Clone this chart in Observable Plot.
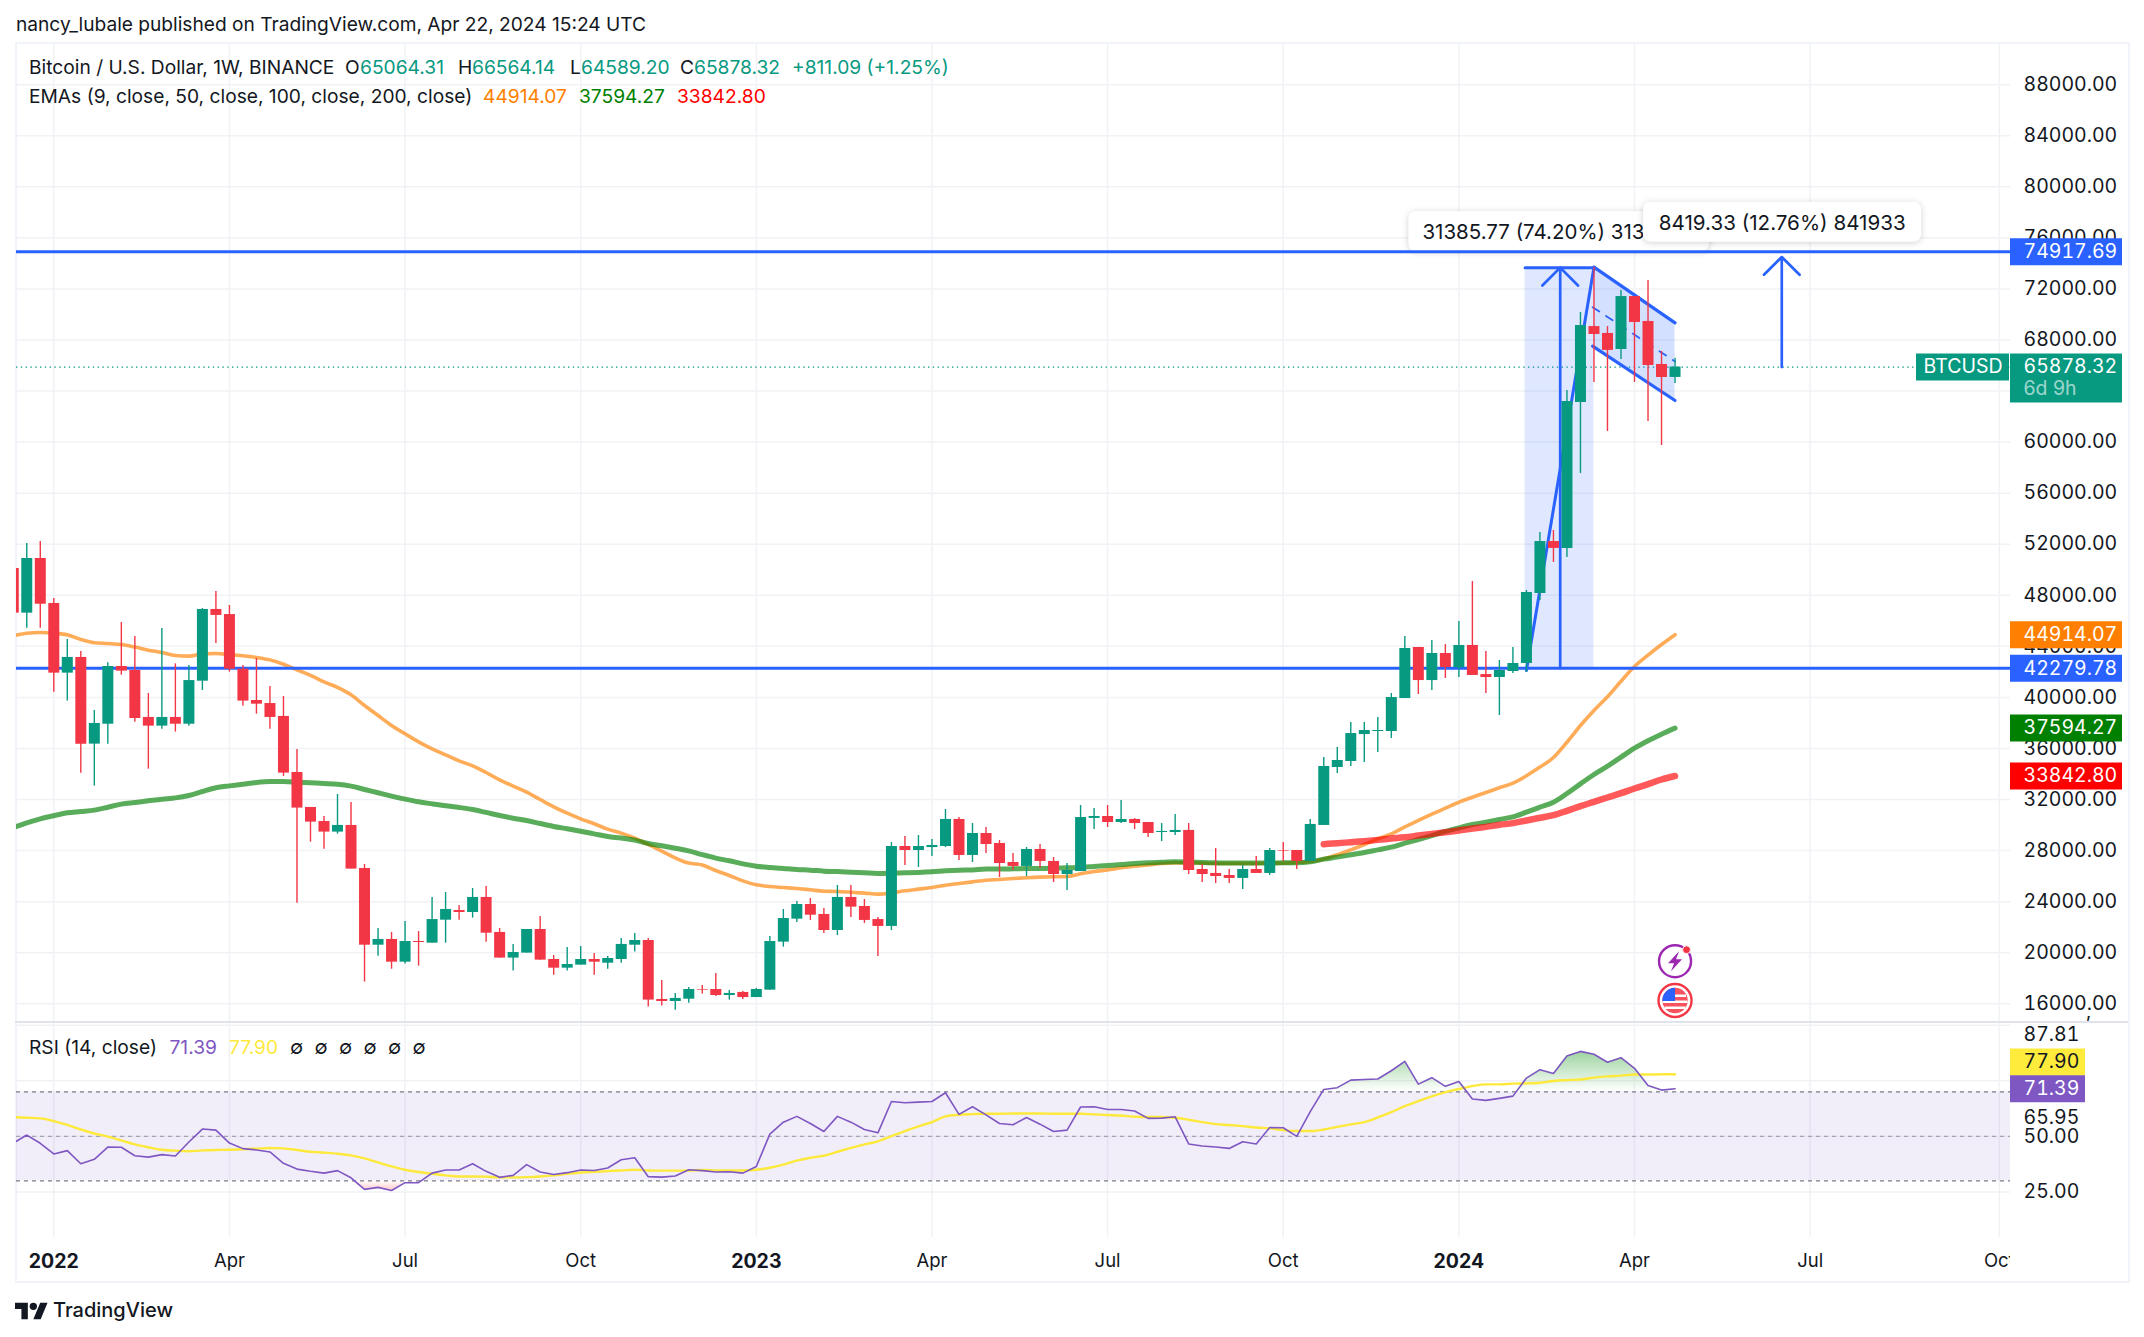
<!DOCTYPE html>
<html>
<head>
<meta charset="utf-8">
<script src="https://cdn.jsdelivr.net/npm/d3@7"></script>
<script src="https://cdn.jsdelivr.net/npm/@observablehq/plot@0.6"></script>
<style>
html,body{margin:0;padding:0;background:#fff;overflow:hidden}
#page{position:relative;width:2144px;height:1337px;font-family:Inter,sans-serif;color:#131722;overflow:hidden}
#page svg{position:absolute;left:0;overflow:visible}
.t{position:absolute;font-size:19.2px;line-height:1;white-space:pre;transform:translateY(-50%)}
.frame{position:absolute;left:15px;top:42px;width:2111px;height:1237px;border:2px solid #f0f3fa}
.div{position:absolute;left:15px;width:2113px;top:1021px;height:2px;background:#e0e3eb}
.mask{position:absolute;left:2010px;top:1240px;width:115px;height:38px;background:#fff}
</style>
</head>
<body>
<div id="page">
<div class="t" style="left:16px;top:25px;font-size:19.15px">nancy_lubale published on TradingView.com, Apr 22, 2024 15:24 UTC</div>
<div class="frame"></div>
</div>
<script>
// Weekly candles, first entry is the week of 2021-12-13
const firstIndex = -3;
const opens = [
50100,46600,50880,47360,41900,43130,36340,37900,42420,42110,
38430,37750,38430,37900,41270,46890,46490,42210,39760,39520,
38510,34120,31380,30280,29450,29970,26600,20590,21040,19260,
20880,20750,22550,23310,23150,24330,21590,19580,19970,21820,
19470,18790,19030,19470,19180,19470,20590,20960,16340,16180,
16360,17120,17120,16650,16890,16490,17070,20830,22630,23780,
23000,21740,24330,23620,22600,22060,28320,28010,28240,28320,
30440,27620,29340,28560,27070,26760,28090,27150,26130,26360,
30520,30670,30200,30440,30200,29420,29420,29580,26520,26210,
26050,25820,26520,26210,28010,28010,27150,29970,34510,34980,
37090,37330,37330,39910,43910,41320,43440,42320,44070,41790,
41560,42030,42660,48140,52210,51670,63100,69050,68510,67250,
71400,69450,66080,65064.31];
const highs = [
50100,52060,52210,47750,44540,43600,38980,42710,45870,44770,
40310,45400,42630,42500,46960,48300,47200,42500,43050,40860,
40070,35920,31380,30670,32400,31770,26910,21900,21590,22450,
21660,24330,24720,23700,25030,25190,21900,20650,21820,22840,
19780,20410,20490,19940,19710,21120,21510,21120,17830,16810,
17280,17430,18370,17040,16960,17200,21270,23390,24010,24250,
23470,25270,25270,24170,22760,28640,29100,29180,28870,31220,
30590,30120,29810,28790,27770,28240,28480,27460,26990,31530,
31300,31530,31930,30510,30200,30120,30830,30120,26910,28170,
26520,26830,27540,28170,28640,28010,30440,35290,36080,38030,
38030,38430,40310,44770,43910,44460,44140,45950,49080,43600,
42890,43910,48380,52920,53080,64040,70150,73700,69050,71870,
71400,72660,67100,66564.14];
const lows = [
46600,45420,45420,40410,39710,34060,33050,36340,41740,38060,
34380,37510,37280,37750,40540,44220,41980,39310,38690,37510,
33810,23880,28660,28110,29290,26550,17700,19730,18710,19110,
18950,20750,20750,22550,22710,20830,19580,18560,19970,19420,
18240,18560,19030,18240,18710,19180,20050,15740,15820,15500,
16050,16760,16570,16290,16340,16490,17070,20440,22370,22530,
21510,21350,22760,22290,19710,21740,26830,26680,27540,28240,
27220,27070,27770,25890,26440,25970,26600,25500,24880,26360,
29650,29810,30120,29650,29030,28710,29180,26130,25500,25420,
25420,24950,26210,26050,27150,26520,27150,29970,34040,34590,
34900,35680,36780,39910,40230,40540,41480,41560,41720,40310,
38580,41870,41950,47590,50570,50960,57540,64670,60830,66470,
64670,61610,59730,64589.20];
const closes = [
46600,50880,47300,41900,43130,36340,37960,42420,42060,38350,
37750,38430,37900,41320,46890,46420,42210,39710,39470,38430,
34070,31330,30230,29450,29970,26550,20590,21040,19260,20880,
20800,22600,23390,23150,24330,21530,19580,20020,21820,19420,
18790,19080,19470,19260,19550,20650,20960,16290,16180,16420,
17120,17070,16650,16810,16490,17120,20880,22680,23780,22940,
21740,24330,23570,22530,22060,28320,28010,28320,28400,30440,
27620,29340,28480,26990,26760,28090,27150,26130,26440,30590,
30670,30200,30440,30120,29340,29500,29580,26440,26130,25970,
25820,26520,26210,28010,27960,27150,30050,34590,35060,37170,
37410,37410,39990,43830,41320,43440,42340,44070,41720,41560,
42110,42660,48220,52210,51670,63180,69130,68430,67180,71400,
69370,66000,65060,65878.32];
const ema50 = [
44820,45030,45080,45030,44900,44540,44280,44220,44140,43940,
43700,43520,43280,43230,43410,43440,43360,43260,43130,42940,
42600,42160,41720,41220,40780,40200,39370,38580,37800,37150,
36520,35970,35500,35030,34640,34120,33540,33050,32580,32000,
31430,30930,30490,30100,29680,29370,28980,28480,27960,27430,
27020,26880,26440,26050,25630,25320,25190,25110,25030,24930,
24820,24800,24740,24670,24590,24690,24850,24980,25110,25290,
25420,25550,25680,25740,25810,25870,25920,25950,25970,26180,
26360,26490,26650,26780,26880,26990,27040,27040,27020,26990,
26990,26990,26990,27020,27020,27070,27150,27350,27670,28060,
28480,28920,29310,29860,30360,30850,31320,31790,32180,32550,
32920,33280,33860,34540,35290,36490,37800,38980,40050,41270,
42420,43310,44140,44914.07];
const ema100 = [
29790,30180,30490,30730,30960,31060,31170,31400,31640,31770,
31900,32030,32130,32320,32630,32920,33070,33200,33340,33410,
33410,33360,33310,33260,33200,33050,32790,32530,32270,32030,
31820,31660,31510,31380,31220,30990,30750,30540,30360,30120,
29890,29710,29520,29310,29100,28980,28820,28560,28380,28190,
27980,27680,27410,27200,26960,26780,26680,26600,26520,26470,
26390,26360,26310,26260,26210,26230,26260,26290,26340,26420,
26470,26490,26550,26550,26570,26600,26600,26620,26650,26680,
26760,26830,26910,26990,27040,27090,27120,27090,27070,27040,
27020,27020,27020,27020,27040,27040,27120,27330,27490,27670,
27850,28060,28270,28580,28870,29180,29500,29780,30040,30230,
30440,30640,31010,31400,31790,32470,33230,33960,34610,35320,
36020,36600,37120,37594.27];
// EMA 200 only begins at the week of 2023-10-23
const ema200First = 94;
const ema200 = [
28505,28580,28660,28740,28840,28950,29050,29180,29310,29440,
29575,29730,29860,30020,30150,30360,30570,30775,31115,31480,
31820,32160,32500,32865,33205,33570,33842.80];
const rsiValues = [
47.0,50.6,46.9,42.1,43.6,37.7,39.7,45.2,45.1,41.3,
40.7,41.8,41.2,47.5,53.3,52.8,47.0,44.5,43.9,43.0,
37.9,35.3,34.3,33.5,34.6,31.4,26.2,27.1,25.7,29.2,
29.2,33.5,34.9,34.9,37.7,34.3,31.6,32.5,37.3,34.0,
32.9,33.7,34.9,34.7,35.8,39.5,40.4,31.9,31.7,32.2,
35.0,34.6,34.0,34.1,33.5,36.5,51.0,56.4,59.0,55.8,
52.2,59.0,56.4,53.1,51.6,65.7,65.1,65.4,65.7,69.6,
59.9,63.3,59.7,55.8,55.2,58.5,55.5,52.2,52.8,63.2,
63.3,62.1,62.1,61.4,58.1,58.2,58.8,46.6,45.7,45.2,
44.6,47.6,46.6,54.0,53.9,50.0,61.1,71.1,71.9,75.3,
75.6,75.8,79.5,83.7,73.5,76.4,72.5,74.7,66.8,66.2,
67.1,68.1,76.2,80.0,78.3,86.1,88.2,86.9,83.3,85.4,
80.6,72.9,70.8,71.39];
const rsiMa = [
58.7,58.4,58.1,56.9,55.2,53.1,51.3,49.9,48.2,46.4,
45.1,44.0,43.6,43.3,43.7,43.9,44.0,44.2,44.5,44.8,
44.6,43.9,43.1,42.7,42.2,41.5,40.1,38.3,36.5,35.0,
34.0,33.2,32.5,32.0,32.0,31.9,31.6,31.6,31.7,32.0,
32.5,33.2,33.8,34.1,34.4,34.7,35.0,34.7,34.6,34.6,
34.7,34.9,34.7,34.7,34.7,35.0,35.9,37.3,39.1,40.4,
41.3,43.1,44.8,46.4,47.8,50.1,52.4,54.5,56.4,59.0,
59.7,60.0,60.2,60.2,60.3,60.3,60.3,60.2,60.2,60.2,
59.9,59.6,59.4,58.8,58.7,58.7,58.4,57.5,56.4,55.5,
55.1,54.6,54.0,53.6,52.8,52.4,52.4,53.1,54.3,55.4,
56.4,58.5,60.9,63.6,65.9,68.0,69.9,71.3,72.6,73.4,
73.4,73.7,73.8,74.1,74.9,75.3,75.6,76.4,77.0,77.3,
77.8,77.8,77.9,77.90];

const priceTicks = d3.range(16000, 88001, 4000);
const rsiGrid = [25, 50, 75, 100];
const timeTicks = ["2022-01-03","2022-04-04","2022-07-04","2022-10-03","2023-01-02","2023-04-03","2023-07-03","2023-10-02","2024-01-01","2024-04-01","2024-07-01","2024-10-07"];
const timeLabels = ["2022","Apr","Jul","Oct","2023","Apr","Jul","Oct","2024","Apr","Jul","Oct"];
const priceTags = [
  {v:74917.69,color:"#2962FF",text:"74917.69"},
  {v:44914.07,color:"#FF7F00",text:"44914.07"},
  {v:42279.78,color:"#2962FF",text:"42279.78"},
  {v:37594.27,color:"#008000",text:"37594.27"},
  {v:33842.80,color:"#FF0000",text:"33842.80"}
];
const rsiLabels = [
  {level:95.8,text:"87.81"},{level:58.6,text:"65.95"},{level:50,text:"50.00"},{level:25,text:"25.00"}
];
const rsiTags = [
  {level:83.4,color:"#FFEB3B",ink:"#131722",text:"77.90"},
  {level:71.39,color:"#7E57C2",ink:"#ffffff",text:"71.39"}
];
const supportLevel = 42279.78, resistanceLevel = 74917.69, lastClose = 65878.32;
const measureTop = 73665.55, targetTop = 74500;

const font = "Inter, sans-serif";
const gridColor = "#f1f2f5";
const up = "#089981", down = "#F23645", blue = "#2962FF";
const tab = "tabular-nums";

const weekOf = i => new Date(Date.UTC(2022,0,3) + i*7*864e5);
const xDomain = [weekOf(-2.76), weekOf(144.83)];
const xMax = xDomain[1];
const rows = opens.map((o,k)=>({
  i:k+firstIndex, date:weekOf(k+firstIndex), open:o, high:highs[k], low:lows[k], close:closes[k],
  e50:ema50[k], e100:ema100[k], rsi:rsiValues[k], ma:rsiMa[k]
}));
const rows200 = ema200.map((v,k)=>({date:weekOf(ema200First+k),v}));
const color = d => d.close >= d.open ? up : down;
const ticks = timeTicks.map((s,k)=>({date:new Date(s+"T00:00:00Z"),label:timeLabels[k],year:/^\d{4}$/.test(timeLabels[k])}));

// icon glyphs
const bolt = {draw(c){c.moveTo(4,-10);c.lineTo(-7,2);c.lineTo(-1,2);c.lineTo(-4,10);c.lineTo(7,-2);c.lineTo(1,-2);c.closePath();}};
const stripes = {draw(c){for(const [y,w] of [[-6,11],[0,12.5],[6,10.5]]){c.moveTo(-w,y);c.lineTo(w,y);c.lineTo(w,y+2.6);c.lineTo(-w,y+2.6);c.closePath();}}};
const canton = {draw(c){c.moveTo(0,-12.7);c.lineTo(0,0.5);c.lineTo(-12.7,0.5);c.arc(0,0,12.7,Math.PI,Math.PI*1.5);c.closePath();}};

const priceW = Plot.plot({
  width:2144, height:1022, marginTop:43, marginBottom:0, marginLeft:16, marginRight:134,
  style:{background:"transparent",fontFamily:font,fontSize:"19.5px",color:"#131722",overflow:"visible"},
  x:{type:"utc",domain:xDomain,axis:null},
  y:{domain:[14535,91222],axis:null},
  marks:[
    Plot.ruleY(priceTicks,{stroke:gridColor,strokeWidth:1.5}),
    Plot.ruleX(ticks,{x:"date",stroke:gridColor,strokeWidth:1.5}),
    Plot.axisY(priceTicks,{anchor:"right",label:null,tickSize:0,tickPadding:13,tickFormat:d3.format(".2f"),fill:"#131722"}),
    Plot.ruleY([lastClose],{stroke:up,strokeWidth:1.2,strokeDasharray:"1.4,3.4"}),
    // date-range shading and measurement
    Plot.rect([{x1:108.9,x2:114,y1:supportLevel,y2:measureTop}],{x1:d=>weekOf(d.x1),x2:d=>weekOf(d.x2),y1:"y1",y2:"y2",fill:blue,fillOpacity:0.15}),
    // flag channel
    Plot.areaY([{i:114,lo:67514,hi:73702},{i:120,lo:63258,hi:69342}],{x:d=>weekOf(d.i),y1:"lo",y2:"hi",fill:blue,fillOpacity:0.2}),
    // EMAs
    Plot.line(rows,{x:"date",y:"e50",stroke:"#FF7F00",strokeOpacity:0.65,strokeWidth:3.6,curve:"monotone-x",clip:true}),
    Plot.line(rows,{x:"date",y:"e100",stroke:"#008000",strokeOpacity:0.65,strokeWidth:5,curve:"monotone-x",clip:true}),
    Plot.line(rows200,{x:"date",y:"v",stroke:"#FF0000",strokeOpacity:0.65,strokeWidth:6.5,strokeLinecap:"round",curve:"monotone-x"}),
    // annotation boxes
    Plot.rect([{x1:100.3,x2:122.55,y1:74920,y2:78060}],{x1:d=>weekOf(d.x1),x2:d=>weekOf(d.x2),y1:"y1",y2:"y2",fill:"#fff",rx:7,imageFilter:"drop-shadow(0 1px 3px rgba(0,0,0,.18))"}),
    Plot.text(["31385.77 (74.20%) 313"],{x:()=>weekOf(101.3),y:()=>76440,text:d=>d,textAnchor:"start",fill:"#131722",fontSize:20.5}),
    Plot.rect([{x1:117.67,x2:138.25,y1:75660,y2:78790}],{x1:d=>weekOf(d.x1),x2:d=>weekOf(d.x2),y1:"y1",y2:"y2",fill:"#fff",rx:7,imageFilter:"drop-shadow(0 1px 3px rgba(0,0,0,.18))"}),
    Plot.text(["8419.33 (12.76%) 841933"],{x:()=>weekOf(118.8),y:()=>77140,text:d=>d,textAnchor:"start",fill:"#131722",fontSize:20.6}),
    // levels
    Plot.ruleY([resistanceLevel,supportLevel],{stroke:blue,strokeWidth:3}),
    Plot.line([{i:108.9,v:measureTop},{i:114,v:measureTop}],{x:d=>weekOf(d.i),y:"v",stroke:blue,strokeWidth:3}),
    Plot.arrow([{i:111.5,a:supportLevel,b:measureTop},{i:127.9,a:lastClose,b:targetTop}],{x1:d=>weekOf(d.i),x2:d=>weekOf(d.i),y1:"a",y2:"b",stroke:blue,strokeWidth:2.7,bend:0,headLength:14,headAngle:90}),
    Plot.line([{i:109,v:42110},{i:114,v:73702}],{x:d=>weekOf(d.i),y:"v",stroke:blue,strokeWidth:3}),
    Plot.line([{i:114,v:73702},{i:120,v:69342}],{x:d=>weekOf(d.i),y:"v",stroke:blue,strokeWidth:3.2}),
    Plot.line([{i:113.9,v:67514},{i:120,v:63258}],{x:d=>weekOf(d.i),y:"v",stroke:blue,strokeWidth:3.2}),
    Plot.line([{i:113.9,v:70569},{i:120,v:66313}],{x:d=>weekOf(d.i),y:"v",stroke:blue,strokeWidth:1.8,strokeDasharray:"8,8"}),
    // candles
    Plot.ruleX(rows,{x:"date",y1:"low",y2:"high",stroke:color,strokeWidth:1.4,clip:true}),
    Plot.ruleX(rows,{x:"date",y1:"open",y2:"close",stroke:color,strokeWidth:11,clip:true}),
    // icons
    Plot.dot([19337],{x:()=>weekOf(120),y:d=>d,r:16,stroke:"#9C27B0",strokeWidth:2.4,fill:"#fff"}),
    Plot.dot([19337],{x:()=>weekOf(120),y:d=>d,symbol:bolt,fill:"#9C27B0"}),
    Plot.dot([19337],{x:()=>weekOf(120),y:d=>d,r:4,dx:11.5,dy:-11.5,fill:"#F23645",stroke:"#fff",strokeWidth:1}),
    Plot.dot([16258],{x:()=>weekOf(120),y:d=>d,r:16.5,stroke:"#F23645",strokeWidth:2.4,fill:"#fff"}),
    Plot.dot([16258],{x:()=>weekOf(120),y:d=>d,r:12.7,fill:"#F6525F"}),
    Plot.dot([16258],{x:()=>weekOf(120),y:d=>d,symbol:stripes,fill:"#fff"}),
    Plot.dot([16258],{x:()=>weekOf(120),y:d=>d,symbol:canton,fill:"#2962FF"}),
    // axis tags
    Plot.ruleY(priceTags,{y:"v",x1:()=>xMax,x2:()=>xMax,insetRight:-112,stroke:"color",strokeWidth:27}),
    Plot.text(priceTags,{x:()=>xMax,y:"v",dx:13,textAnchor:"start",text:"text",fill:"#fff",fontVariant:tab}),
    Plot.ruleY([lastClose],{x1:()=>xMax,x2:()=>xMax,insetRight:-112,dy:11,stroke:up,strokeWidth:49}),
    Plot.ruleY([lastClose],{x1:()=>xMax,x2:()=>xMax,insetLeft:-94,insetRight:1,stroke:up,strokeWidth:27}),
    Plot.text(["65878.32"],{x:()=>xMax,y:()=>lastClose,dx:13,textAnchor:"start",text:d=>d,fill:"#fff",fontVariant:tab}),
    Plot.text(["6d 9h"],{x:()=>xMax,y:()=>lastClose,dx:13,dy:22,textAnchor:"start",text:d=>d,fill:"#fff",fillOpacity:0.62}),
    Plot.text(["BTCUSD"],{x:()=>xMax,y:()=>lastClose,dx:-87,textAnchor:"start",text:d=>d,fill:"#fff"})
  ]
});

const rsiPlot = Plot.plot({
  width:2144, height:258, marginTop:0, marginBottom:43, marginLeft:16, marginRight:134,
  style:{background:"transparent",fontFamily:font,fontSize:"19.5px",color:"#131722",overflow:"visible"},
  x:{type:"utc",domain:xDomain,axis:null},
  y:{domain:[4.56,101.19],axis:null},
  marks:[
    () => d3.create("svg:defs").html(
      '<linearGradient id="rsiUp" x1="0" y1="0" x2="0" y2="1"><stop offset="0" stop-color="#4CAF50" stop-opacity=".55"/><stop offset="1" stop-color="#4CAF50" stop-opacity="0"/></linearGradient>'+
      '<linearGradient id="rsiDown" x1="0" y1="0" x2="0" y2="1"><stop offset="0" stop-color="#FF5252" stop-opacity="0"/><stop offset="1" stop-color="#FF5252" stop-opacity=".3"/></linearGradient>').node(),
    Plot.ruleY(rsiGrid,{stroke:gridColor,strokeWidth:1.5}),
    Plot.ruleX(ticks,{x:"date",stroke:gridColor,strokeWidth:1.5}),
    Plot.rect([{a:30,b:70}],{x1:()=>xDomain[0],x2:()=>xMax,y1:"a",y2:"b",fill:"#7E57C2",fillOpacity:0.1}),
    Plot.ruleY([70,30],{stroke:"#787B86",strokeWidth:1.4,strokeDasharray:"4,4"}),
    Plot.ruleY([50],{stroke:"#787B86",strokeOpacity:0.6,strokeWidth:1.4,strokeDasharray:"4,4"}),
    Plot.areaY(rows,{x:"date",y1:()=>70,y2:d=>Math.max(d.rsi,70),fill:"url(#rsiUp)",clip:true}),
    Plot.areaY(rows,{x:"date",y1:()=>30,y2:d=>Math.min(d.rsi,30),fill:"url(#rsiDown)",clip:true}),
    Plot.line(rows,{x:"date",y:"ma",stroke:"#FDE93B",strokeWidth:2.4,curve:"monotone-x",clip:true}),
    Plot.line(rows,{x:"date",y:"rsi",stroke:"#7E57C2",strokeWidth:1.6,clip:true}),
    Plot.text(rsiLabels,{x:()=>xMax,y:"level",dx:13,textAnchor:"start",text:"text",fill:"#131722",fontVariant:tab}),
    Plot.text(["’"],{x:()=>xMax,y:()=>100,dx:75,textAnchor:"start",text:d=>d,fill:"#131722"}),
    Plot.ruleY(rsiTags,{y:"level",x1:()=>xMax,x2:()=>xMax,insetRight:-75,stroke:"color",strokeWidth:27}),
    Plot.text(rsiTags,{x:()=>xMax,y:"level",dx:13,textAnchor:"start",text:"text",fill:"ink",fontVariant:tab}),
    Plot.text(ticks.filter(d=>!d.year),{x:"date",frameAnchor:"bottom",lineAnchor:"middle",dy:24,text:"label",fill:"#131722",fontSize:18.5}),
    Plot.text(ticks.filter(d=>d.year),{x:"date",frameAnchor:"bottom",lineAnchor:"middle",dy:24,text:"label",fontWeight:700,fill:"#131722",fontSize:19.5})
  ]
});

const page = document.getElementById("page");
priceW.style.top = "0px";
rsiPlot.style.top = "1022px";
page.appendChild(priceW);
page.appendChild(rsiPlot);

const addHtml = s => page.insertAdjacentHTML("beforeend", s);
addHtml('<div class="div"></div><div class="mask"></div>');
const legend = [
  ["Bitcoin / U.S. Dollar, 1W, BINANCE",29,68,"#131722"],["O",345,68,"#131722"],["65064.31",360,68,up],
  ["H",458,68,"#131722"],["66564.14",472,68,up],["L",570,68,"#131722"],["64589.20",581,68,up],
  ["C",680,68,"#131722"],["65878.32",694,68,up],["+811.09 (+1.25%)",792,68,up],
  ["EMAs (9, close, 50, close, 100, close, 200, close)",29,96.5,"#131722"],["44914.07",483,96.5,"#FF7F00"],
  ["37594.27",579,96.5,"#008000"],["33842.80",677,96.5,"#FF0000"],
  ["RSI (14, close)",29,1048,"#131722"],["71.39",169.5,1048,"#7E57C2"],["77.90",229,1048,"#FDE93B"],
  ["∅",290,1048,"#131722"],["∅",314.5,1048,"#131722"],["∅",339,1048,"#131722"],["∅",363.5,1048,"#131722"],["∅",388,1048,"#131722"],["∅",412.5,1048,"#131722"]
];
addHtml(legend.map(([s,x,y,c])=>`<div class="t" style="left:${x}px;top:${y}px;color:${c}">${s}</div>`).join(""));
addHtml('<svg style="left:15px;top:1299px" width="33" height="23" viewBox="0 0 36 25"><path fill="#131722" d="M14 22H7V11H0V4h14v18zM28 22h-8l7.5-18h8L28 22z"/><circle fill="#131722" cx="20" cy="8" r="4"/></svg>');
addHtml('<div class="t" style="left:53px;top:1310px;font-size:20px;font-weight:500">TradingView</div>');
</script>
</body>
</html>
